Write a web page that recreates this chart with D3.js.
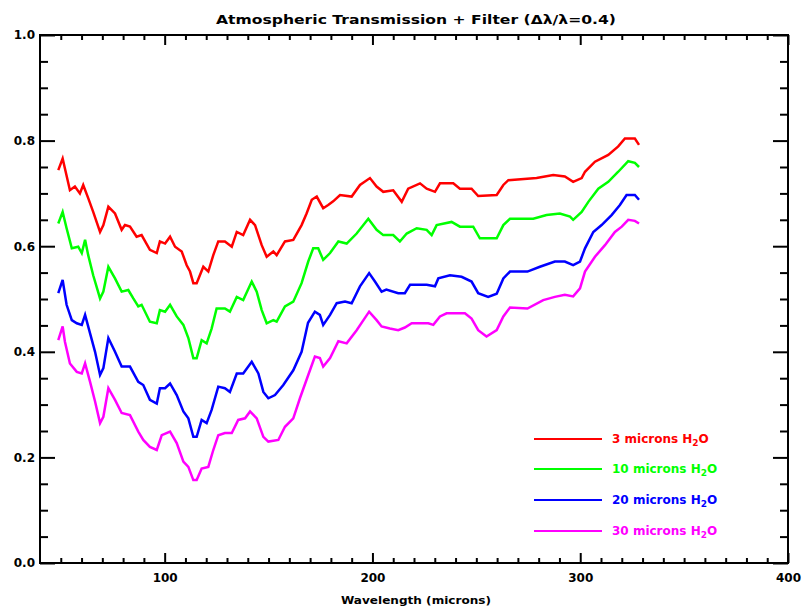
<!DOCTYPE html>
<html>
<head>
<meta charset="utf-8">
<script src="https://cdn.jsdelivr.net/npm/d3@7"></script>
<style>
body{margin:0;background:#fff}
svg{display:block}
</style>
</head>
<body>
<div id="chart"></div>
<script>
// wavelength (microns) / transmission, one pair of arrays per water column
const wave3 = [48.8,50.9,52.0,54.4,56.8,59.2,60.8,63.2,65.6,68.9,70.5,72.9,76.1,79.3,80.9,83.3,86.5,88.9,92.9,96.2,97.7,100.2,102.6,105.0,108.2,110.6,112.2,113.8,115.4,118.6,121.0,123.4,125.8,129.0,132.3,134.7,137.8,141.1,143.5,146.7,149.1,152.3,153.9,157.9,161.9,165.9,168.3,170.8,173.2,176.3,178.7,181.1,184.4,190.0,194.0,198.8,202.0,205.2,210.0,214.1,217.2,222.9,226.1,230.1,232.5,238.9,242.1,247.7,250.9,259.8,263.0,265.4,279.0,287.0,292.6,296.6,300.7,302.3,307.1,313.5,318.3,321.5,326.3,328.3]
const trans3 = [0.744,0.766,0.747,0.706,0.713,0.700,0.716,0.691,0.665,0.627,0.640,0.675,0.662,0.631,0.640,0.637,0.618,0.621,0.593,0.587,0.609,0.605,0.618,0.599,0.590,0.564,0.552,0.530,0.530,0.561,0.552,0.583,0.609,0.609,0.599,0.627,0.621,0.650,0.640,0.602,0.580,0.590,0.583,0.609,0.612,0.640,0.662,0.688,0.694,0.672,0.678,0.685,0.697,0.694,0.716,0.729,0.713,0.703,0.706,0.684,0.709,0.719,0.709,0.703,0.719,0.719,0.709,0.709,0.695,0.697,0.716,0.725,0.729,0.735,0.732,0.722,0.729,0.741,0.760,0.773,0.789,0.804,0.804,0.792]

const wave10 = [48.8,50.9,52.8,55.3,58.4,60.1,61.7,63.2,65.6,68.9,70.5,72.9,76.1,79.3,82.5,84.9,87.3,88.9,92.9,96.2,97.7,100.2,102.6,105.8,109.0,111.4,113.8,115.4,117.8,120.2,122.6,125.0,129.0,131.4,134.7,137.8,141.9,144.3,146.7,149.1,152.3,153.9,157.9,161.9,165.9,169.1,171.5,173.9,176.3,179.6,183.6,187.6,192.4,198.0,202.0,205.2,210.0,213.2,216.5,221.3,226.1,228.5,230.9,238.1,242.1,248.5,251.7,259.8,263.0,266.2,277.4,283.8,290.2,295.1,296.6,300.7,303.9,308.7,313.5,318.3,323.1,326.3,328.3]
const trans10 = [0.643,0.665,0.634,0.596,0.599,0.587,0.612,0.583,0.545,0.501,0.514,0.561,0.539,0.514,0.517,0.501,0.486,0.489,0.457,0.454,0.479,0.476,0.489,0.467,0.451,0.426,0.388,0.388,0.422,0.416,0.444,0.482,0.482,0.476,0.504,0.498,0.533,0.514,0.479,0.454,0.460,0.457,0.486,0.495,0.530,0.571,0.596,0.596,0.574,0.587,0.609,0.605,0.624,0.652,0.631,0.621,0.621,0.609,0.624,0.634,0.631,0.621,0.640,0.646,0.637,0.637,0.615,0.615,0.640,0.652,0.652,0.659,0.662,0.656,0.650,0.665,0.684,0.709,0.722,0.741,0.761,0.758,0.750]

const wave20 = [48.8,50.9,52.8,55.3,57.7,60.1,61.7,64.1,66.5,68.9,70.5,72.9,76.1,79.3,83.3,87.3,89.7,92.9,96.2,97.7,100.2,102.6,105.8,109.0,111.4,113.8,115.4,117.8,120.2,122.6,125.8,129.0,131.4,134.7,137.8,141.9,145.1,147.5,149.9,153.1,157.1,161.9,165.9,169.0,172.3,174.7,176.3,179.6,182.8,186.8,190.0,194.0,198.4,201.2,204.4,206.7,212.4,215.6,218.1,226.1,230.1,231.7,237.3,242.9,247.7,250.9,255.7,259.8,263.0,266.2,274.6,280.6,287.8,292.6,296.6,299.9,302.3,306.3,310.3,315.1,319.1,322.3,326.3,328.3]
const trans20 = [0.511,0.536,0.489,0.460,0.454,0.451,0.470,0.435,0.400,0.356,0.369,0.426,0.400,0.372,0.372,0.343,0.337,0.309,0.302,0.331,0.331,0.340,0.318,0.287,0.274,0.239,0.239,0.271,0.265,0.290,0.334,0.331,0.324,0.359,0.359,0.381,0.359,0.324,0.312,0.318,0.337,0.365,0.400,0.455,0.476,0.470,0.451,0.470,0.492,0.495,0.492,0.524,0.549,0.533,0.514,0.518,0.511,0.511,0.527,0.527,0.524,0.539,0.545,0.542,0.533,0.511,0.504,0.510,0.539,0.552,0.552,0.561,0.571,0.571,0.564,0.571,0.596,0.627,0.640,0.659,0.678,0.697,0.697,0.688]

const wave30 = [48.8,50.9,52.0,54.4,57.7,60.1,61.7,64.1,66.5,68.9,70.5,72.9,76.1,79.3,83.3,87.3,89.7,92.9,96.2,98.6,102.6,105.8,109.0,111.4,113.8,115.4,117.8,121.0,123.4,125.8,129.0,132.3,135.4,138.7,141.1,144.3,147.5,149.9,154.7,157.9,161.9,165.1,169.1,172.3,174.7,176.3,179.6,183.6,187.6,192.4,198.4,202.0,204.4,208.4,212.4,215.6,218.9,226.9,229.3,232.5,235.7,244.5,247.7,250.9,254.9,259.8,263.0,266.2,274.6,282.2,287.8,292.6,296.6,299.9,302.3,307.1,311.9,316.7,320.0,323.1,326.3,328.3]
const trans30 = [0.422,0.448,0.419,0.378,0.362,0.359,0.378,0.343,0.306,0.265,0.277,0.331,0.309,0.284,0.280,0.249,0.233,0.220,0.214,0.242,0.249,0.227,0.192,0.182,0.157,0.157,0.179,0.182,0.214,0.242,0.246,0.246,0.271,0.274,0.287,0.274,0.239,0.230,0.233,0.258,0.274,0.312,0.356,0.391,0.388,0.372,0.388,0.420,0.416,0.441,0.476,0.460,0.448,0.444,0.441,0.446,0.454,0.454,0.451,0.467,0.473,0.473,0.463,0.441,0.429,0.441,0.467,0.484,0.482,0.498,0.504,0.508,0.505,0.520,0.552,0.580,0.602,0.627,0.637,0.650,0.648,0.643]

const waterColumns = ["3","10","20","30"]
const xTickLabels = [100,200,300,400]
const yTickLabels = [0.0,0.2,0.4,0.6,0.8,1.0]

const colors = ["#ff0000","#00ff00","#0000ff","#ff00ff"]
const FONT = "'DejaVu Sans', sans-serif"

drawChart("#chart")

function drawChart(id){
    const canvas = createCanvas()
    const svg = addSvg(id,canvas)
    const sc = addScales(canvas)

    const series = [
        d3.zip(wave3,trans3),
        d3.zip(wave10,trans10),
        d3.zip(wave20,trans20),
        d3.zip(wave30,trans30)
    ]

    addLines(svg,sc,series)
    addAxes(svg,sc,canvas)
    addTitles(svg,canvas)
    addLegend(svg)
}

function createCanvas(){
    return{
        width: 811, height: 612, margin:{top: 35, bottom: 49, right: 23, left: 40}
    }
}

function addSvg(id,canvas){
    return d3.select(id).append("svg")
      .attr("width",canvas.width).attr("height",canvas.height)
      .attr("viewBox",`0 0 ${canvas.width} ${canvas.height}`)
}

function addScales(canvas){
    const xScale = d3.scaleLinear().domain([40,400])
      .range([canvas.margin.left,canvas.width - canvas.margin.right])
    const yScale = d3.scaleLinear().domain([0,1])
      .range([canvas.height - canvas.margin.bottom,canvas.margin.top])
    return {xScale,yScale}
}

function styleAxis(g){
    g.select(".domain").remove()
    g.selectAll(".tick line").attr("stroke","#000").attr("stroke-width",2)
    g.selectAll("text").attr("font-family",FONT).attr("font-size",12)
      .attr("font-weight","bold").attr("fill","#000")
}

function addAxes(svg,sc,canvas){
    const bottom = canvas.height - canvas.margin.bottom
    const top = canvas.margin.top
    const left = canvas.margin.left
    const right = canvas.width - canvas.margin.right
    const xMinor = d3.range(50,400,10).filter(v => v % 100 != 0)
    const yMinor = d3.range(0.05,1,0.05).filter(v => Math.abs(v*5 - Math.round(v*5)) > 1e-6)

    svg.append("g").attr("transform",`translate(0,${bottom})`)
      .call(d3.axisBottom(sc.xScale).tickValues(xTickLabels).tickSize(-10).tickSizeOuter(0).tickPadding(10).tickFormat(d3.format("d")))
      .call(styleAxis)
    svg.append("g").attr("transform",`translate(0,${bottom})`)
      .call(d3.axisBottom(sc.xScale).tickValues(xMinor).tickSize(-5).tickSizeOuter(0).tickFormat(""))
      .call(styleAxis)
    svg.append("g").attr("transform",`translate(0,${top})`)
      .call(d3.axisTop(sc.xScale).tickValues(xTickLabels).tickSize(-10).tickSizeOuter(0).tickFormat(""))
      .call(styleAxis)
    svg.append("g").attr("transform",`translate(0,${top})`)
      .call(d3.axisTop(sc.xScale).tickValues(xMinor).tickSize(-5).tickSizeOuter(0).tickFormat(""))
      .call(styleAxis)

    svg.append("g").attr("transform",`translate(${left},0)`)
      .call(d3.axisLeft(sc.yScale).tickValues(yTickLabels).tickSize(-15).tickSizeOuter(0).tickPadding(5).tickFormat(d3.format(".1f")))
      .call(styleAxis)
    svg.append("g").attr("transform",`translate(${left},0)`)
      .call(d3.axisLeft(sc.yScale).tickValues(yMinor).tickSize(-8).tickSizeOuter(0).tickFormat(""))
      .call(styleAxis)
    svg.append("g").attr("transform",`translate(${right},0)`)
      .call(d3.axisRight(sc.yScale).tickValues(yTickLabels).tickSize(-15).tickSizeOuter(0).tickFormat(""))
      .call(styleAxis)
    svg.append("g").attr("transform",`translate(${right},0)`)
      .call(d3.axisRight(sc.yScale).tickValues(yMinor).tickSize(-8).tickSizeOuter(0).tickFormat(""))
      .call(styleAxis)

    svg.append("rect").attr("x",left).attr("y",top)
      .attr("width",right - left).attr("height",bottom - top)
      .attr("fill","none").attr("stroke","#000").attr("stroke-width",2)
}

function addLines(svg,sc,series){
    const line = d3.line().x(d => sc.xScale(d[0])).y(d => sc.yScale(d[1]))
    series.forEach((s,i) => {
        svg.append("path").datum(s).attr("fill","none").attr("stroke",colors[i])
          .attr("stroke-width",2.5).attr("stroke-linejoin","miter").attr("d",line)
    })
}

function addTitles(svg,canvas){
    svg.append("text").attr("x",416).attr("y",24).attr("text-anchor","middle")
      .attr("font-family",FONT).attr("font-size",13).attr("font-weight","bold")
      .attr("textLength",400).attr("lengthAdjust","spacingAndGlyphs")
      .text("Atmospheric Transmission + Filter (\u0394\u03bb/\u03bb=0.4)")

    svg.append("text").attr("x",416).attr("y",604).attr("text-anchor","middle")
      .attr("font-family",FONT).attr("font-size",11).attr("font-weight","bold")
      .attr("textLength",150).attr("lengthAdjust","spacingAndGlyphs")
      .text("Wavelength (microns)")
}

function addLegend(svg){
    const rowY = [439,469,500,531]
    waterColumns.forEach((w,i) => {
        svg.append("line").attr("x1",534).attr("x2",602).attr("y1",rowY[i]).attr("y2",rowY[i])
          .attr("stroke",colors[i]).attr("stroke-width",2)
        const t = svg.append("text").attr("x",612).attr("y",rowY[i] + 4)
          .attr("font-family",FONT).attr("font-size",12).attr("font-weight","bold").attr("fill",colors[i])
        t.append("tspan").text(`${w} microns H`)
        t.append("tspan").attr("font-size",9).attr("dy",3).text("2")
        t.append("tspan").attr("dy",-3).text("O")
    })
}
</script>
</body>
</html>
